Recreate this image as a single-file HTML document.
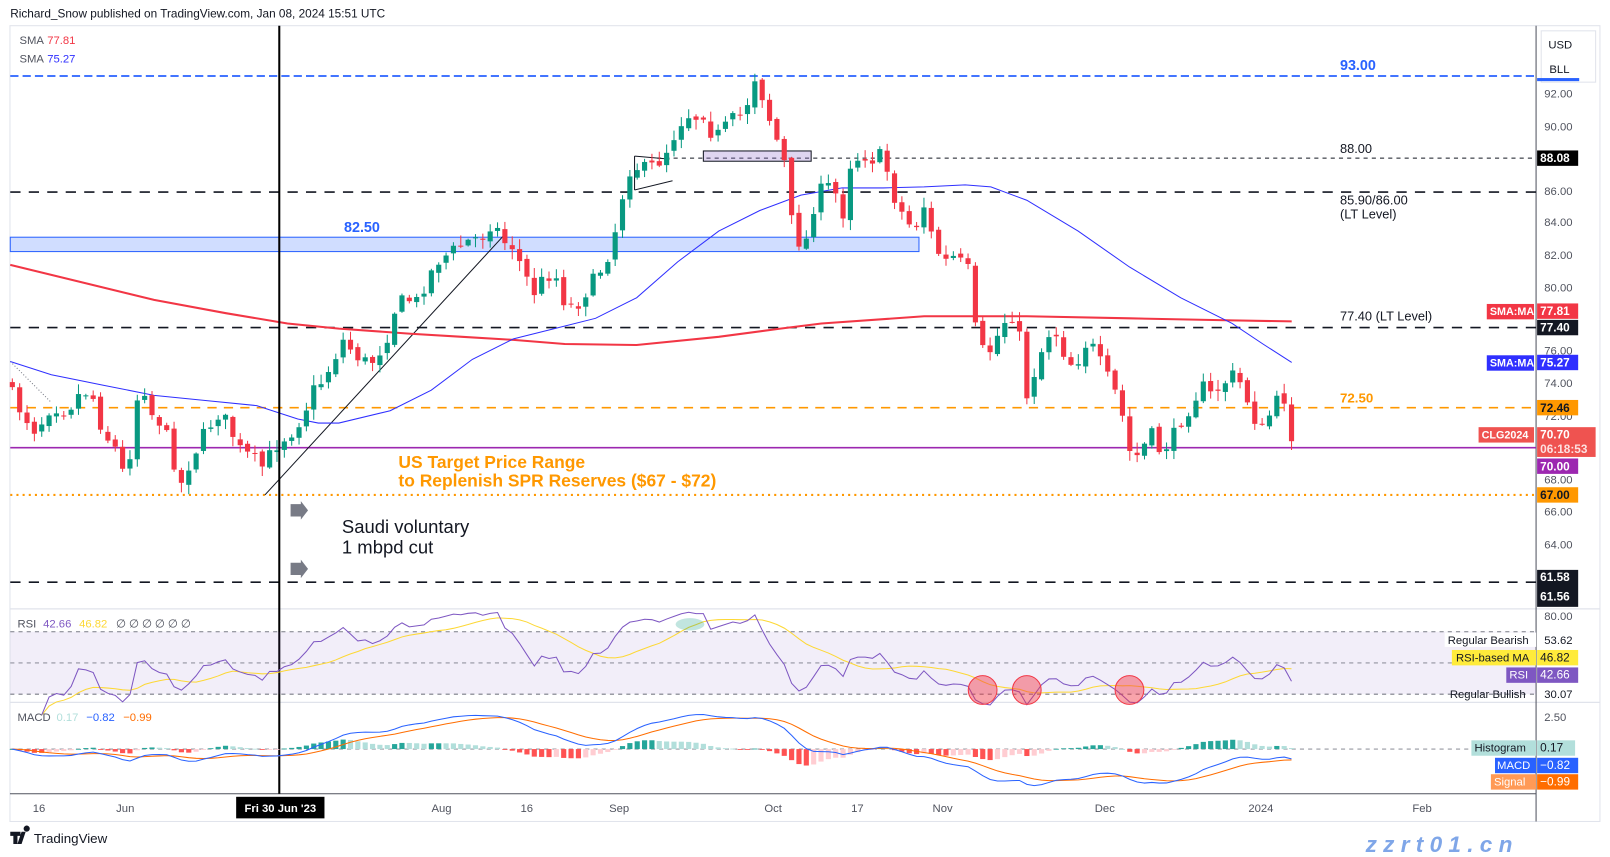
<!DOCTYPE html>
<html><head><meta charset="utf-8">
<style>
html,body{margin:0;padding:0;background:#fff;width:1610px;height:857px;overflow:hidden}
svg{display:block}
text{font-family:"Liberation Sans",sans-serif}
</style></head>
<body>
<svg id="c" width="1610" height="857" viewBox="0 0 1568 834.6" xmlns="http://www.w3.org/2000/svg"></svg>
<script>
var s=[];
function A(t){s.push(t);}
function T(x,y,txt,o){o=o||{};A('<text x="'+x+'" y="'+y+'" font-size="'+(o.fs||11)+'" fill="'+(o.c||'#131722')+'"'+(o.b?' font-weight="bold"':'')+(o.a?' text-anchor="'+o.a+'"':'')+(o.it?' font-style="italic"':'')+'>'+txt+'</text>');}
function L(x1,y1,x2,y2,c,w,d){A('<line x1="'+x1+'" y1="'+y1+'" x2="'+x2+'" y2="'+y2+'" stroke="'+c+'" stroke-width="'+(w||1)+'"'+(d?' stroke-dasharray="'+d+'"':'')+'/>');}
function R(x,y,w,h,f,st){A('<rect x="'+x+'" y="'+y+'" width="'+w+'" height="'+h+'" fill="'+f+'"'+(st?' stroke="'+st+'"':'')+'/>');}
function P(pts,c,w){A('<polyline fill="none" stroke="'+c+'" stroke-width="'+(w||1)+'" points="'+pts.map(function(p){return p[0].toFixed(1)+','+p[1].toFixed(1)}).join(' ')+'"/>');}
function interp(k,x){for(var i=0;i<k.length-1;i++){if(x<=k[i+1][0]){var t=(x-k[i][0])/(k[i+1][0]-k[i][0]);return k[i][1]+t*(k[i+1][1]-k[i][1]);}}return k[k.length-1][1];}
var seed=7;function rnd(){seed=(seed*16807)%2147483647;return seed/2147483647;}

R(9.7,25,1548.5,775,'#fff','#e0e3eb');
T(10,17,'Richard_Snow published on TradingView.com, Jan 08, 2024 15:51 UTC',{fs:11.5,c:'#131722'});
L(9.7,593,1558,593,'#e0e3eb',1.2);L(9.7,684,1558,684,'#e0e3eb',1.2);
L(9.7,773,1496,773,'#50535e',1);L(1496,25,1496,800,'#50535e',1);

L(10,74,1496,74,'#2962ff',1.6,'8,4');
T(1305,68,'93.00',{fs:14,c:'#2962ff',b:1});
R(10,231,885,14,'rgba(41,98,255,0.22)','#2962ff');
T(335,226,'82.50',{fs:14,c:'#2962ff',b:1});
L(640,154,1496,154,'#131722',1,'4,4');
T(1305,149,'88.00',{fs:12.5});
L(10,187,1496,187,'#131722',1.6,'10,8');
T(1305,199,'85.90/86.00',{fs:12.5});T(1305,213,'(LT Level)',{fs:12.5});
L(10,319,1496,319,'#131722',1.6,'10,8');
T(1305,312,'77.40 (LT Level)',{fs:12.5});
L(10,397,1496,397,'#ff9800',1.6,'9,7');
T(1305,392,'72.50',{fs:13,c:'#ff9800',b:1});
L(10,436,1496,436,'#9c27b0',1.6);
L(10,482,1496,482,'#ff9800',2,'2,4');
L(10,567,1496,567,'#131722',1.6,'10,8');
R(685,147,105,10,'rgba(149,117,205,0.3)','#131722');
L(618,152,652,155,'#131722',1);L(618,185,655,176,'#131722',1);L(618,152,618,185,'#131722',1);
L(258,482,490,230,'#131722',1);
L(10,352,50,392,'#787b86',1,'1,2');

P([[10,258],[80,275],[150,292],[220,305],[280,315],[330,320],[400,325],[450,328],[500,331],[550,335],[620,336],[700,328],[760,320],[800,315],[900,308],[1000,308],[1100,310],[1200,312],[1258,313]],'#f23645',2);
P([[10,352],[50,365],[100,375],[150,385],[200,390],[250,395],[290,408],[310,412],[330,412],[380,400],[420,380],[460,350],[500,330],[540,320],[580,310],[620,290],[660,255],[700,225],[740,205],[780,190],[820,183],[860,183],[900,182],[940,180],[965,182],[1000,195],[1050,225],[1100,260],[1150,290],[1200,315],[1230,335],[1258,353]],'#2f2fff',1);

var K=[[10,380],[20,400],[35,420],[50,395],[65,400],[80,380],[90,385],[100,420],[115,440],[122,470],[130,420],[137,360],[145,400],[155,410],[165,430],[175,475],[185,450],[200,420],[215,400],[225,420],[235,440],[245,445],[255,455],[265,440],[272,430],[285,420],[295,405],[305,380],[315,370],[325,350],[335,330],[345,345],[360,355],[375,335],[385,300],[395,290],[405,295],[415,275],[425,255],[440,245],[455,235],[470,230],[480,215],[490,235],[500,240],[510,265],[520,285],[530,270],[540,265],[550,295],[560,300],[570,285],[580,270],[590,255],[598,230],[605,195],[615,160],[625,165],[640,160],[650,145],[660,125],[668,110],[675,115],[685,110],[695,135],[705,125],[715,115],[725,110],[735,75],[745,100],[755,135],[762,140],[768,200],[775,235],[785,235],[795,190],[805,180],[815,190],[820,215],[828,160],[840,150],[850,155],[860,150],[870,190],[880,210],[890,225],[900,200],[910,240],[920,255],[930,250],[945,265],[950,320],[960,350],[970,330],[980,310],[990,305],[1000,385],[1010,355],[1020,325],[1030,325],[1040,355],[1050,350],[1060,330],[1070,350],[1080,370],[1090,390],[1100,440],[1110,445],[1120,420],[1130,440],[1140,430],[1150,410],[1160,395],[1170,375],[1180,385],[1190,375],[1200,365],[1210,375],[1220,405],[1230,420],[1240,395],[1250,385],[1258,425]];
var xs=[],cl=[];var pc=interp(K,5);
for(var x=12;x<=1259;x+=7.16){
 var c=interp(K,x)+(rnd()-0.5)*14;var o=pc+(rnd()-0.5)*5;
 var hi=Math.min(o,c)-rnd()*9-1,lo=Math.max(o,c)+rnd()*9+1;
 var up=c<o,col=up?'#089981':'#f23645';
 L(x,hi,x,lo,col,1);R(x-2.5,Math.min(o,c),5,Math.max(1,Math.abs(o-c)),col);
 xs.push(x);cl.push(80-(c-279.5)/15.58);pc=c;
}
L(272,25,272,773,'#000',2);

T(388,456,'US Target Price Range',{fs:17,c:'#ff9800',b:1});
T(388,474,'to Replenish SPR Reserves ($67 - $72)',{fs:17,c:'#ff9800',b:1});
A('<polygon points="283,491 293,491 293,488 300,497 293,506 293,503 283,503" fill="#787b86"/>');
A('<polygon points="283,548 293,548 293,545 300,554 293,563 293,560 283,560" fill="#787b86"/>');
T(333,519,'Saudi voluntary',{fs:18});T(333,539,'1 mbpd cut',{fs:18});
T(19,43,'SMA',{fs:11,c:'#50535e'});T(46,43,'77.81',{fs:11,c:'#f23645'});
T(19,61,'SMA',{fs:11,c:'#50535e'});T(46,61,'75.27',{fs:11,c:'#2f2fff'});

R(1501,30,53,50,'#fff','#e0e3eb');T(1508,47,'USD',{fs:11});T(1509,71,'BLL',{fs:11});
[[92,91],[90,123],[86,186],[84,216],[82,248],[80,280],[76,341],[74,373],[72,405],[68,467],[66,498],[64,530],[62,561]].forEach(function(t){T(1504,t[1]+4,t[0].toFixed(2),{fs:11,c:'#50535e'});});
R(1497,76,41,3,'#2962ff');
function box(y,h,col,txt,tc){R(1497,y-h/2,40,h,col);T(1500,y+4,txt,{fs:11.5,c:tc||'#fff',b:1});}
box(154,15,'#000','88.08');box(303,15,'#f23645','77.81');box(319,15,'#131722','77.40');box(353,15,'#2f2fff','75.27');
box(397,15,'#ff9800','72.46','#131722');
R(1497,416,57,29,'#ef5350');T(1500,427,'70.70',{fs:11.5,c:'#fff',b:1});T(1500,441,'06:18:53',{fs:11.5,c:'#fde0e0',b:1});
box(454,15,'#9c27b0','70.00');box(482,15,'#ff9800','67.00','#131722');
R(1497,555,40,36,'#131722');T(1500,566,'61.58',{fs:11.5,c:'#fff',b:1});T(1500,585,'61.56',{fs:11.5,c:'#fff',b:1});
R(1448,296,46,15,'#f23645');T(1451,307,'SMA:MA',{fs:10.5,c:'#fff',b:1});
R(1448,346,46,15,'#2f2fff');T(1451,357,'SMA:MA',{fs:10.5,c:'#fff',b:1});
R(1440,416,54,15,'#ef5350');T(1443,427,'CLG2024',{fs:10.5,c:'#fff',b:1});

function ry(v){return 600+(80-v)*1.521;}
R(10,ry(70),1486,ry(30)-ry(70),'rgba(126,87,194,0.1)');
L(10,ry(70),1496,ry(70),'#787b86',1,'4,4');L(10,ry(50),1496,ry(50),'#787b86',0.8,'4,4');L(10,ry(30),1496,ry(30),'#787b86',1,'4,4');
var ag=0,al=0,rsi=[];
for(var i=1;i<cl.length;i++){var d=cl[i]-cl[i-1];var g=d>0?d:0,l=d<0?-d:0;if(i<=14){ag+=g/14;al+=l/14;}else{ag=(ag*13+g)/14;al=(al*13+l)/14;}rsi.push([xs[i],al==0?70:100-100/(1+ag/al)]);}
rsi=rsi.slice(3);
var rma=[];for(var i=0;i<rsi.length;i++){var a=0,n=0;for(var j=Math.max(0,i-13);j<=i;j++){a+=rsi[j][1];n++;}rma.push([rsi[i][0],ry(a/n)]);}
P(rma,'#fdd835',1);
P(rsi.map(function(p){return [p[0],ry(p[1])]}),'#7e57c2',1);
[[957],[1000],[1100]].forEach(function(p){A('<circle cx="'+p[0]+'" cy="672" r="14" fill="rgba(242,54,69,0.45)" stroke="#f23645"/>');});
A('<ellipse cx="672" cy="608" rx="14" ry="6" fill="rgba(8,153,129,0.25)"/>');
T(17,611,'RSI',{fs:11,c:'#50535e'});T(42,611,'42.66',{fs:11,c:'#7e57c2'});T(77,611,'46.82',{fs:11,c:'#fdd835'});T(113,611,'∅ ∅ ∅ ∅ ∅ ∅',{fs:11,c:'#50535e'});
T(1504,604,'80.00',{fs:11,c:'#50535e'});
R(1407,616,89,14,'#fff');T(1410,627,'Regular Bearish',{fs:11});T(1504,627,'53.62',{fs:11});
R(1414,633,82,15,'#ffeb3b');T(1418,644,'RSI-based MA',{fs:11});R(1497,633,40,15,'#ffeb3b');T(1500,644,'46.82',{fs:11.5});
R(1467,650,29,15,'#7e57c2');T(1470,661,'RSI',{fs:11,c:'#fff'});R(1497,650,40,15,'#7e57c2');T(1500,661,'42.66',{fs:11.5,c:'#fff'});
T(1412,680,'Regular Bullish',{fs:11});T(1504,680,'30.07',{fs:11});

function my(v){return 729.5-v*12.47;}
L(10,my(0),1496,my(0),'#787b86',0.8,'4,4');
function ema(arr,n){var k=2/(n+1),e=arr[0],o=[];for(var i=0;i<arr.length;i++){e=i?arr[i]*k+e*(1-k):arr[0];o.push(e);}return o;}
var e12=ema(cl,12),e26=ema(cl,26),m=[];for(var i=0;i<cl.length;i++)m.push(e12[i]-e26[i]);
var sg=ema(m,9);var pm=[],ps=[];var ph=0;
for(var i=0;i<cl.length;i++){var h=m[i]-sg[i];var col=h>=0?(h>=ph?'#26a69a':'#b2dfdb'):(h<ph?'#ff5252':'#ffcdd2');
 var y0=my(0),y1=my(h);R(xs[i]-2.5,Math.min(y0,y1),5,Math.max(0.8,Math.abs(y1-y0)),col);ph=h;pm.push([xs[i],my(m[i])]);ps.push([xs[i],my(sg[i])]);}
P(ps,'#ff6d00',1);P(pm,'#2962ff',1);
T(17,702,'MACD',{fs:11,c:'#50535e'});T(55,702,'0.17',{fs:11,c:'#b2dfdb'});T(84,702,'−0.82',{fs:11,c:'#2962ff'});T(120,702,'−0.99',{fs:11,c:'#ff6d00'});
T(1504,702,'2.50',{fs:11,c:'#50535e'});
R(1433,721,63,15,'#b2dfdb');T(1436,732,'Histogram',{fs:11});R(1497,721,37,15,'#b2dfdb');T(1500,732,'0.17',{fs:11.5});
R(1456,738,40,15,'#2962ff');T(1458,749,'MACD',{fs:11,c:'#fff'});R(1497,738,40,15,'#2962ff');T(1500,749,'−0.82',{fs:11.5,c:'#fff'});
R(1452,754,44,15,'#ff9a56');T(1455,765,'Signal',{fs:11,c:'#fff'});R(1497,754,40,15,'#ff6d00');T(1500,765,'−0.99',{fs:11.5,c:'#fff'});

[['16',38],['Jun',122],['Aug',430],['16',513],['Sep',603],['Oct',753],['17',835],['Nov',918],['Dec',1076],['2024',1228],['Feb',1385]].forEach(function(t){T(t[1],791,t[0],{fs:11,c:'#50535e',a:'middle'});});
R(230,776,86,21,'#000');T(273,791,"Fri 30 Jun '23",{fs:11,c:'#fff',a:'middle',b:1});

A('<path d="M10 810h10v4h-3v8h-4v-8h-3z M21 810h4l-4 12h-4z M26 810a3 3 0 1 1 0.01 0z" fill="#131722"/>');
T(33,821,'TradingView',{fs:13,c:'#131722'});
T(1330,830,'z z r t 0 1 . c n',{fs:22,c:'#7fa6e8',b:1,it:1});
document.getElementById('c').innerHTML=s.join('');
</script>
</body></html>
